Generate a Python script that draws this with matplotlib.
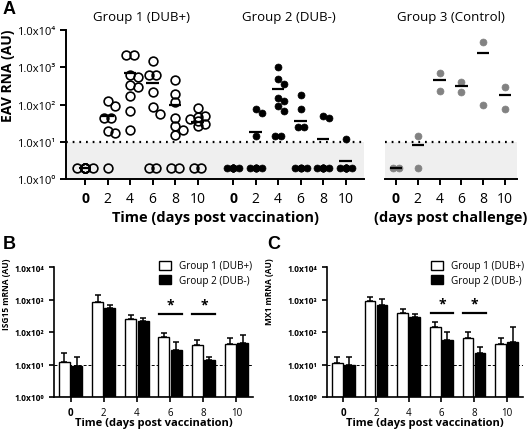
import numpy as np
import matplotlib
matplotlib.use("Agg")
import matplotlib.pyplot as plt
from matplotlib.patches import Patch
from matplotlib.ticker import NullLocator, FixedLocator

plt.rcParams['font.family'] = ['Open Sans', 'DejaVu Sans']

# ---- datos ----
days = [0, 2, 4, 6, 8, 10]
lod = 10

# panel A: EAV RNA por animal (los valores < LOD se grafican en 2)
g1_eav = [
    [2, 2, 2, 2, 2, 2, 2, 2, 2],
    [124, 90, 43, 43, 19, 17, 2],
    [2100, 2100, 610, 540, 330, 295, 167, 66, 21],
    [1450, 610, 610, 215, 85, 55, 2, 2],
    [450, 190, 116, 43, 26, 21, 15, 2, 2],
    [80, 50, 46, 40, 35, 30, 26, 2, 2],
]
g2_eav = [
    [2, 2, 2, 2, 2, 2, 2, 2, 2],
    [76, 59, 14, 2, 2, 2, 2, 2, 2],
    [1000, 480, 350, 148, 123, 91, 66, 14, 14],
    [180, 75, 25, 25, 2, 2, 2, 2, 2],
    [49, 43, 2, 2, 2, 2, 2, 2, 2],
    [12, 2, 2, 2, 2, 2, 2, 2, 2],
]
g3_eav = [
    [2, 2],
    [14, 2],
    [700, 230],
    [400, 215],
    [4700, 96],
    [295, 75],
]

# panel B: ISG15 (media y extremo superior de la barra de error)
isg15_g1 = [11.7, 860, 250, 72, 40, 43]
isg15_g1_top = [22.5, 1370, 333, 95, 57, 65]
isg15_g2 = [9.2, 535, 222, 28.5, 13.8, 45]
isg15_g2_top = [17, 690, 270, 48, 17.4, 83]

# panel C: MX1
mx1_g1 = [11, 880, 376, 145, 64, 43]
mx1_g1_top = [17.4, 1230, 510, 199, 102, 64]
mx1_g2 = [9.8, 690, 283, 58, 22.6, 48]
mx1_g2_top = [17.4, 1040, 357, 102, 35, 139]

sig_days = [6, 8]

yticks = [1, 10, 100, 1000, 10000]
ytick_labels = ['1.0x10\u2070', '1.0x10\u00b9', '1.0x10\u00b2', '1.0x10\u00b3', '1.0x10\u2074']

# ---- layout ----
W, H = 527, 431
fig = plt.figure(figsize=(W / 100, H / 100), dpi=100)


def rect(l, t, r, b):
    return [l / W, 1 - b / H, (r - l) / W, (b - t) / H]


def swarm(vals, diam, px_day, px_dec, max_side=1):
    """posiciones x tipo 'beeswarm' simple (en dias)"""
    vals = sorted(vals, reverse=True)
    placed = []
    step = diam * 0.85
    for v in vals:
        y = np.log10(v) * px_dec
        cands = [0.0]
        for k in range(1, max_side + 1):
            cands += [k * step, -k * step]
        best = 0.0
        for c in cands:
            if all(np.hypot(c - px, y - py) >= 0.85 * diam for px, py in placed):
                best = c
                break
        placed.append((best, y))
    xs = np.array([p[0] for p in placed])
    ys = np.round(np.array([p[1] for p in placed]), 1)
    for yv in np.unique(ys):
        m = ys == yv
        if m.sum() > 1:
            xs[m] -= xs[m].mean()
    return xs / px_day, np.array(vals, dtype=float)


def style_log(ax, lw=1.4, tick_len=4.5, left=True):
    ax.set_yscale('log')
    ax.set_ylim(1, 10000)
    ax.yaxis.set_minor_locator(NullLocator())
    for s in ['top', 'right']:
        ax.spines[s].set_visible(False)
    ax.spines['bottom'].set_linewidth(lw)
    ax.spines['left'].set_linewidth(lw)
    ax.tick_params(direction='out', length=tick_len, width=lw)
    if not left:
        ax.spines['left'].set_visible(False)
        ax.tick_params(axis='y', left=False, labelleft=False)


# ===================== Panel A =====================
px_day_a = 11.25
px_dec_a = 37.25
g2_off = 13.16

axA1 = fig.add_axes(rect(66, 31, 364, 180))
axA2 = fig.add_axes(rect(385, 31, 517, 180))

for ax in (axA1, axA2):
    ax.axhspan(1, lod, color='#efefef', lw=0, zorder=0)
    ax.axhline(lod, color='k', lw=1.6, ls=(0, (0.8, 2.2)), zorder=1)

style_log(axA1)
style_log(axA2, left=False)
axA1.set_xlim(-1.69, 24.8)
axA2.set_xlim(-1.0, 11.1)

axA1.yaxis.set_major_locator(FixedLocator(yticks))
axA1.set_yticklabels(ytick_labels, fontsize=8)
axA1.set_ylabel('EAV RNA (AU)', fontsize=10, fontweight='bold')
axA1.yaxis.label.set_va('center')
axA1.yaxis.set_label_coords((8 - 66) / 298, (180 - 76) / 149)


def draw_group(ax, data, offset, style, px_day, half):
    for d, vals in zip(days, data):
        dx, v = swarm(vals, style['diam'], px_day, px_dec_a)
        ax.plot(d + offset + dx, v, 'o', ms=style['ms'], mfc=style['mfc'],
                mec=style['mec'], mew=style['mew'], ls='none', zorder=3, clip_on=False)
        m = np.mean(vals)
        ax.plot([d + offset - half, d + offset + half], [m, m], color='k', lw=1.6,
                zorder=4, solid_capstyle='butt')


open_style = dict(diam=9, ms=6.3, mfc='none', mec='black', mew=1.2)
black_style = dict(diam=7, ms=5.0, mfc='black', mec='black', mew=0.5)
gray_style = dict(diam=7, ms=5.0, mfc='#828282', mec='#828282', mew=0.5)

draw_group(axA1, g1_eav, 0, open_style, px_day_a, 0.55)
draw_group(axA1, g2_eav, g2_off, black_style, px_day_a, 0.55)
draw_group(axA2, g3_eav, 0, gray_style, 10.9, 0.57)

xt1 = days + [d + g2_off for d in days]
axA1.set_xticks(xt1)
axA1.set_xticklabels([str(d) for d in days] * 2, fontsize=10)
axA2.set_xticks(days)
axA2.set_xticklabels([str(d) for d in days], fontsize=10)
for ax in (axA1, axA2):
    for lab in ax.get_xticklabels():
        if lab.get_text() == '0':
            lab.set_fontweight('bold')
    ax.tick_params(axis='x', pad=4)

ya = (180 - 18) / 149
axA1.text(5, ya, 'Group 1 (DUB+)', transform=axA1.get_xaxis_transform(),
          ha='center', va='center', fontsize=9.5)
axA1.text(5 + g2_off, ya, 'Group 2 (DUB-)', transform=axA1.get_xaxis_transform(),
          ha='center', va='center', fontsize=9.5)
axA2.text(5, ya, 'Group 3 (Control)', transform=axA2.get_xaxis_transform(),
          ha='center', va='center', fontsize=9.5)

axA1.set_xlabel('Time (days post vaccination)', fontsize=10.5, fontweight='bold')
axA2.set_xlabel('(days post challenge)', fontsize=10.5, fontweight='bold')
for ax in (axA1, axA2):
    ax.xaxis.label.set_va('center')
    ax.xaxis.set_label_coords(0.5, (180 - 218) / 149)


# ===================== Panels B y C =====================
def bar_panel(ax, g1, g1_top, g2, g2_top, ylabel, sig_y, star_y):
    x = np.arange(len(days))
    ax.axhline(lod, color='k', lw=0.7, ls=(0, (3, 2)), zorder=0.5)
    ax.bar(x - 0.185, np.array(g1) - 1, 0.33, bottom=1, color='white',
           edgecolor='black', lw=1.0, zorder=2)
    ax.bar(x + 0.185, np.array(g2) - 1, 0.33, bottom=1, color='black',
           edgecolor='black', lw=1.0, zorder=2)
    for off, m, t in [(-0.185, g1, g1_top), (0.185, g2, g2_top)]:
        m = np.array(m)
        t = np.array(t)
        ax.errorbar(x + off, m, yerr=[np.zeros_like(m), t - m], fmt='none',
                    ecolor='black', elinewidth=1.1, capsize=2.5, capthick=1.1, zorder=1.5)
    style_log(ax, lw=1.2, tick_len=3.5)
    ax.set_xlim(-0.5, len(days) - 0.5)
    ax.yaxis.set_major_locator(FixedLocator(yticks))
    ax.set_yticklabels(ytick_labels, fontsize=6, fontweight='bold')
    ax.set_xticks(x)
    ax.set_xticklabels([str(d) for d in days], fontsize=7)
    ax.get_xticklabels()[0].set_fontweight('bold')
    ax.set_xlabel('Time (days post vaccination)', fontsize=8, fontweight='bold')
    ax.xaxis.label.set_va('center')
    ax.xaxis.set_label_coords(0.5, (398 - 424) / 130)
    ax.set_ylabel(ylabel, fontsize=6, fontweight='bold')
    ax.yaxis.label.set_va('center')
    for d in sig_days:
        i = days.index(d)
        ax.plot([i - 0.33, i + 0.36], [sig_y, sig_y], color='k', lw=1.6)
        ax.text(i + 0.02, star_y, '*', ha='center', va='center', fontsize=10,
                fontweight='bold')
    ax.legend(handles=[Patch(facecolor='white', edgecolor='black', lw=1.0, label='Group 1 (DUB+)'),
                       Patch(facecolor='black', edgecolor='black', label='Group 2 (DUB-)')],
              loc='upper left', frameon=False, fontsize=7.2, handlelength=1.2,
              handleheight=1.0, handletextpad=0.8, labelspacing=0.35, borderpad=0,
              borderaxespad=0, bbox_to_anchor=(0.53, 1.05))


axB = fig.add_axes(rect(54, 268, 253, 398))
axC = fig.add_axes(rect(327, 268, 523, 398))
bar_panel(axB, isg15_g1, isg15_g1_top, isg15_g2, isg15_g2_top, 'ISG15 mRNA (AU)', 358, 700)
bar_panel(axC, mx1_g1, mx1_g1_top, mx1_g2, mx1_g2_top, 'MX1 mRNA (AU)', 385, 750)
axB.yaxis.set_label_coords((7 - 54) / 199, (398 - 294) / 130)
axC.yaxis.set_label_coords((269 - 327) / 196, (398 - 292) / 130)

# letras de panel
for letter, (px, py) in zip('ABC', [(9, 9), (9, 245), (274, 245)]):
    fig.text(px / W, 1 - py / H, letter, fontsize=13, fontweight='bold',
             family='Liberation Sans', ha='center', va='center')

fig.savefig('out.png', dpi=100)
